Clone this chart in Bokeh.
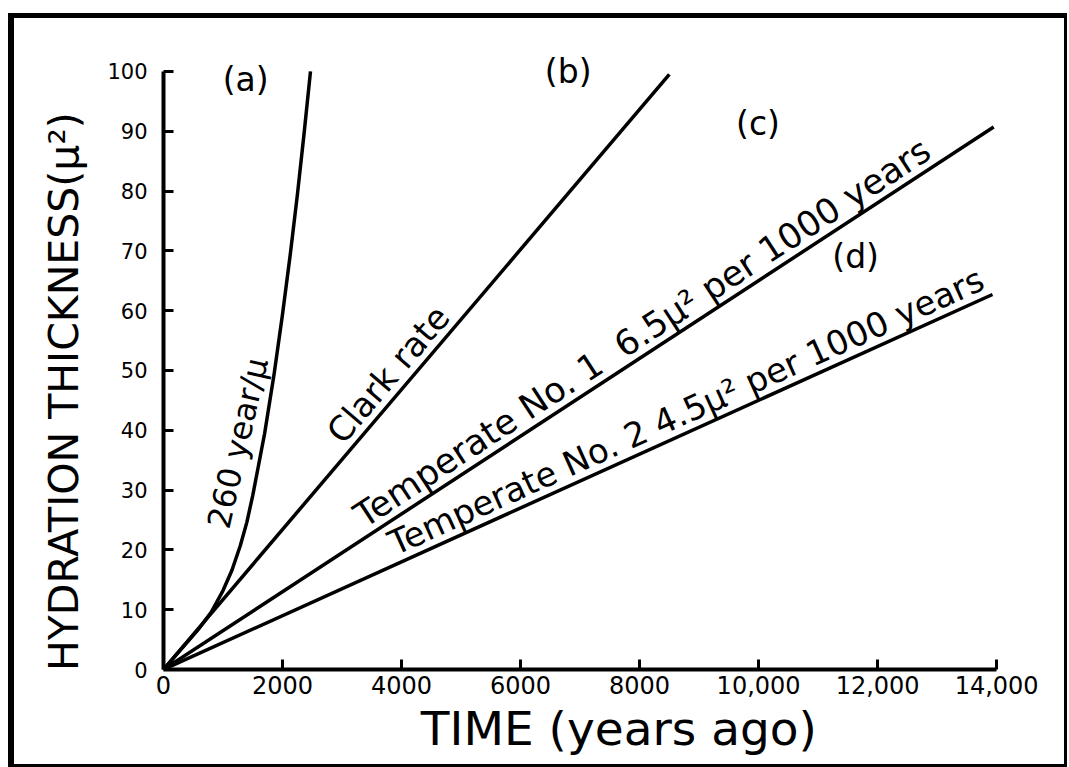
import math
from bokeh.plotting import figure
from bokeh.models import Range1d, FixedTicker, Label
from bokeh.embed import file_html
from bokeh.resources import INLINE

# ---------------- data ----------------
x_ticks = [0, 2000, 4000, 6000, 8000, 10000, 12000, 14000]
x_tick_labels = ["0", "2000", "4000", "6000", "8000", "10,000", "12,000", "14,000"]
y_ticks = [0, 10, 20, 30, 40, 50, 60, 70, 80, 90, 100]

# (a) 260 year/micron
curve_a_years = [0, 200, 400, 600, 803, 1000, 1150, 1290, 1400, 1500, 1700, 1860, 2000, 2130, 2250, 2360, 2470]
curve_a_thick = [0, 2.3, 4.6, 6.9, 9.6, 13.2, 16.6, 20.7, 24.6, 29.1, 39.5, 49.5, 59.4, 69.4, 79.4, 89.4, 100]
# (b) Clark rate
clark_years = [0, 8500]
clark_thick = [0, 99.5]
# (c) Temperate No. 1, 6.5 micron^2 per 1000 years
temp1_years = [0, 13950]
temp1_thick = [0, 90.7]
# (d) Temperate No. 2, 4.5 micron^2 per 1000 years
temp2_years = [0, 13930]
temp2_thick = [0, 62.7]

FONT = "DejaVu Sans"
NB = "\u00a0"
W, H = 1059, 754
ML, MR, MT, MB = 149, 59, 17, 103
X0, X1, Y0, Y1 = 0, 14300, 0, 106

p = figure(width=W, height=H, x_range=Range1d(X0, X1), y_range=Range1d(Y0, Y1),
           output_backend="svg", toolbar_location=None,
           min_border_left=ML, min_border_right=MR, min_border_top=MT, min_border_bottom=MB)
p.styles = {"margin-left": "8px", "margin-top": "13px",
            "border-left": "6px solid black", "border-top": "5px solid black",
            "border-right": "3px solid black", "border-bottom": "3px solid black"}
p.outline_line_color = None
p.grid.visible = False
p.background_fill_color = "white"
p.border_fill_color = "white"

p.xaxis.ticker = FixedTicker(ticks=x_ticks)
p.xaxis.major_label_overrides = {t: l for t, l in zip(x_ticks, x_tick_labels)}
p.yaxis.ticker = FixedTicker(ticks=y_ticks)
p.xaxis.bounds = (0, 14000)
p.yaxis.bounds = (0, 100)
for ax in (p.xaxis[0], p.yaxis[0]):
    ax.axis_line_width = 4
    ax.axis_line_color = "black"
    ax.major_tick_line_width = 3
    ax.major_tick_line_color = "black"
    ax.major_tick_in = 10
    ax.major_tick_out = 0
    ax.minor_tick_line_color = None
    ax.major_label_text_font = FONT
    ax.major_label_text_color = "black"
    ax.axis_label_text_font = FONT
    ax.axis_label_text_font_style = "normal"
    ax.axis_label_text_color = "black"

p.xaxis.major_label_text_font_size = "24px"
p.xaxis.major_label_standoff = 6
p.xaxis.axis_label = NB * 4 + "TIME (years ago)"
p.xaxis.axis_label_text_font_size = "47px"
p.xaxis.axis_label_standoff = 4

p.yaxis.major_label_text_font_size = "21px"
p.yaxis.major_label_standoff = 16
p.yaxis.axis_label = "HYDRATION THICKNESS(\u03bc\u00b2)" + NB * 6
p.yaxis.axis_label_text_font_size = "41px"
p.yaxis.axis_label_standoff = 16

for xs, ys in [(curve_a_years, curve_a_thick), (clark_years, clark_thick),
               (temp1_years, temp1_thick), (temp2_years, temp2_thick)]:
    p.line(xs, ys, line_color="black", line_width=3.5, line_join="round")

# screen-angle helper
ppx = (W - ML - MR) / (X1 - X0)
ppy = (H - MT - MB) / (Y1 - Y0)
def ang(slope):
    return math.degrees(math.atan(slope * ppy / ppx))

def on_line(xs, ys, t):
    return ys[-1] / xs[-1] * t

# letter labels
for txt, x, y in [("(a)", 1380, 98.7), ("(b)", 6800, 100), ("(c)", 9990, 91.3), ("(d)", 11630, 69)]:
    p.add_layout(Label(x=x, y=y, text=txt, text_font=FONT, text_font_size="33px",
                       text_align="center", text_baseline="middle", text_color="black"))

# curve labels
p.add_layout(Label(x=1230, y=23.0, text="260 year/\u03bc", angle=77, angle_units="deg",
                   text_font=FONT, text_font_size="32px", text_align="left",
                   text_baseline="bottom", text_color="black"))
s_b = clark_thick[-1] / clark_years[-1]
p.add_layout(Label(x=3120, y=on_line(clark_years, clark_thick, 3120), text="Clark rate",
                   angle=ang(s_b), angle_units="deg", text_font=FONT, text_font_size="34px",
                   text_align="left", text_baseline="bottom", text_color="black"))
s_c = temp1_thick[-1] / temp1_years[-1]
p.add_layout(Label(x=3450, y=on_line(temp1_years, temp1_thick, 3450),
                   text="Temperate No. 1" + NB * 2 + "6.5\u03bc\u00b2 per 1000 years",
                   angle=ang(s_c), angle_units="deg", text_font=FONT, text_font_size="35px",
                   text_align="left", text_baseline="bottom", text_color="black"))
s_d = temp2_thick[-1] / temp2_years[-1]
p.add_layout(Label(x=3950, y=on_line(temp2_years, temp2_thick, 3950),
                   text="Temperate No. 2 4.5\u03bc\u00b2 per 1000 years",
                   angle=ang(s_d), angle_units="deg", text_font=FONT, text_font_size="34px",
                   text_align="left", text_baseline="bottom", text_color="black"))

open("out.html", "w").write(file_html(p, INLINE, title="Hydration thickness"))
